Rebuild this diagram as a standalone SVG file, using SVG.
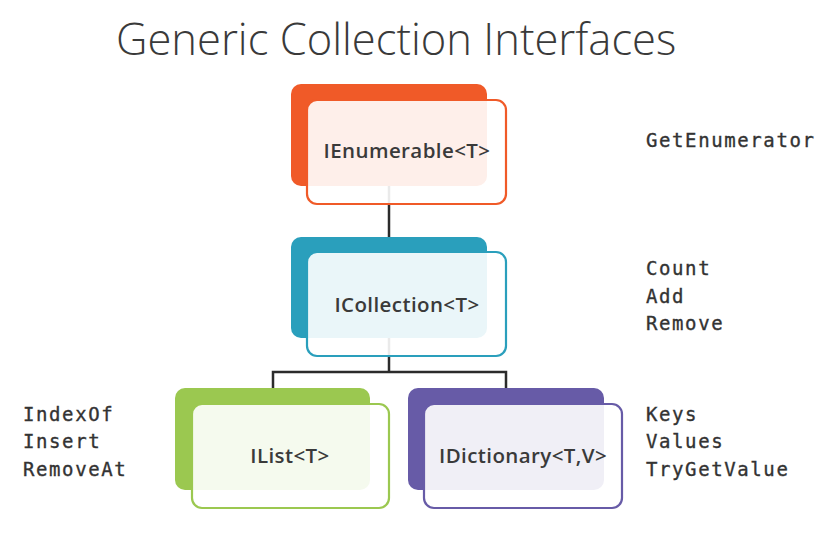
<svg xmlns="http://www.w3.org/2000/svg" width="836" height="545" viewBox="0 0 836 545">
<style>
.title{font-family:"Open Sans","Noto Sans",sans-serif;font-weight:300;font-size:43.5px;fill:#3a3a3a}
.lbl{font-family:"Open Sans","Noto Sans",sans-serif;font-weight:600;font-size:20.5px;letter-spacing:0.4px;fill:#3a3a3a;text-anchor:middle}
.m{font-family:"DejaVu Sans Mono","Liberation Mono",monospace;font-size:19px;letter-spacing:1.6px;fill:#333;stroke:#333;stroke-width:0.35}
.front{fill:#fff;fill-opacity:0.9;stroke-width:2.2}
.conn{fill:none;stroke:#2b2b2b;stroke-width:2.5}
</style>
<rect width="836" height="545" fill="#fff"/>
<text class="title" x="116" y="55">Generic Collection Interfaces</text>
<g id="connectors">
<line class="conn" x1="389" y1="186" x2="389" y2="237"/>
<polyline class="conn" points="389,338 389,372"/>
<polyline class="conn" points="273,388 273,372 506,372 506,388"/>
</g>
<g id="ienumerable">
<rect x="291" y="84" width="196" height="102" rx="10" fill="#f05a28"/>
<rect class="front" x="307" y="100" width="199" height="104" rx="10" stroke="#f05a28"/>
<text class="lbl" x="407" y="158">IEnumerable&lt;T&gt;</text>
</g>
<g id="icollection">
<rect x="291" y="237" width="196" height="101" rx="10" fill="#2a9fbc"/>
<rect class="front" x="307" y="252" width="199" height="104" rx="10" stroke="#2a9fbc"/>
<text class="lbl" x="407" y="312">ICollection&lt;T&gt;</text>
</g>
<g id="ilist">
<rect x="175" y="388" width="195" height="102" rx="10" fill="#9bc850"/>
<rect class="front" x="192" y="404" width="197" height="104" rx="10" stroke="#9bc850"/>
<text class="lbl" x="290" y="463">IList&lt;T&gt;</text>
</g>
<g id="idictionary">
<rect x="408" y="388" width="196" height="102" rx="10" fill="#675ba7"/>
<rect class="front" x="424" y="404" width="198" height="104" rx="10" stroke="#675ba7"/>
<text class="lbl" x="523" y="463">IDictionary&lt;T,V&gt;</text>
</g>
<g id="methods">
<text class="m" x="646" y="147">GetEnumerator</text>
<text class="m" x="646" y="275">Count</text>
<text class="m" x="646" y="303">Add</text>
<text class="m" x="646" y="330">Remove</text>
<text class="m" x="23" y="421">IndexOf</text>
<text class="m" x="23" y="448">Insert</text>
<text class="m" x="23" y="476">RemoveAt</text>
<text class="m" x="646" y="421">Keys</text>
<text class="m" x="646" y="448">Values</text>
<text class="m" x="646" y="476">TryGetValue</text>
</g>
</svg>
